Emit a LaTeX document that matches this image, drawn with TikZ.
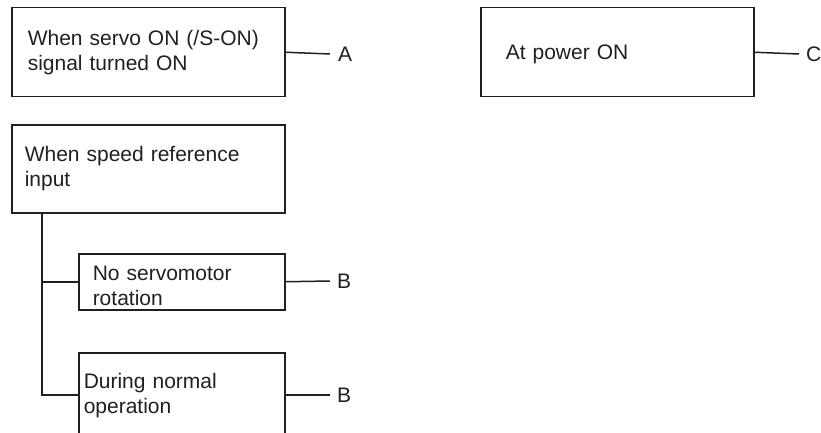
\documentclass[tikz,border=0pt]{standalone}
\usepackage{fontspec}
\setmainfont{Liberation Sans}
\usepackage{tikz}
\usetikzlibrary{positioning, calc}
\definecolor{inkgray}{HTML}{231F20}

\begin{document}
\begin{tikzpicture}[x=1pt, y=-1pt,
    every node/.style={font=\fontsize{21}{25}\selectfont, text=inkgray},
    condbox/.style 2 args={draw=inkgray, line width=1.5pt, anchor=north west,
      align=left, inner ysep=0pt, inner xsep=#2, text width=#1-2*#2},
    tag/.style={anchor=west, inner sep=0pt},
    wire/.style={draw=inkgray, line width=1.5pt}]
  \useasboundingbox (0,0) rectangle (821,433);

  % condition boxes
  \node[condbox={273pt}{16pt}, minimum height=89pt] (servoon) at (11,7)
    {When servo ON (/S-ON)\\signal turned ON};
  \node[condbox={273pt}{25pt}, minimum height=89pt] (poweron) at (480,7)
    {\rule{0pt}{19pt}At power ON};
  \node[condbox={273pt}{13pt}, minimum height=88pt] (speedref) at (11,124)
    {When speed reference\\input};
  \node[condbox={206pt}{14pt}, minimum height=56pt] (norot) at (78,253)
    {\rule{0pt}{23pt}No servomotor\\rotation};
  \node[condbox={206pt}{5pt}, minimum height=86pt] (normal) at (78,352)
    {During normal\\operation};

  % result labels
  \node[tag] (lblA) at (338,54) {A};
  \node[tag] (lblC) at (806,54) {C};
  \node[tag] (lblB1) at (337,281) {B};
  \node[tag] (lblB2) at (337,395) {B};

  % connectors
  \draw[wire] (servoon.east) -- ([xshift=-8pt]lblA.west);
  \draw[wire] (poweron.east) -- ([xshift=-7pt]lblC.west);
  \draw[wire] (norot.east) -- ([xshift=-7pt]lblB1.west);
  \draw[wire] (normal.east |- lblB2.west) -- ([xshift=-7pt]lblB2.west);
  \coordinate (trunk) at ($(speedref.south west)+(31,0)$);
  \draw[wire] (trunk) |- (norot.west);
  \draw[wire] (trunk) |- (normal.west |- lblB2.west);
\end{tikzpicture}
\end{document}
